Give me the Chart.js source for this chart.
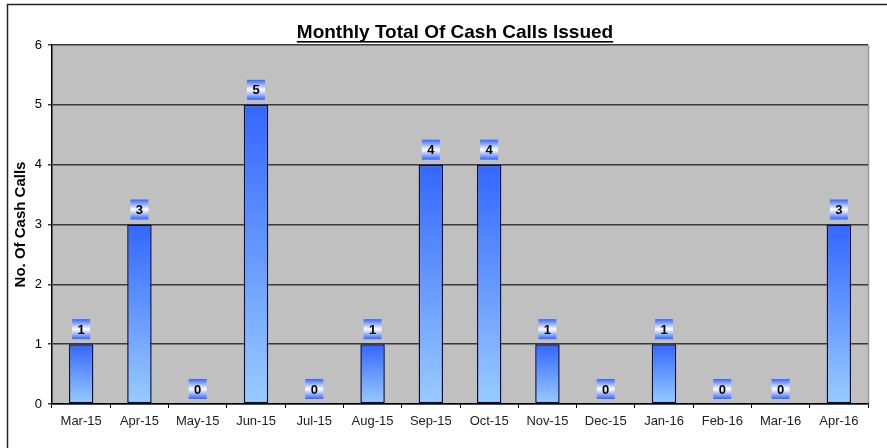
<!DOCTYPE html>
<html>
<head>
<meta charset="utf-8">
<script src="https://cdn.jsdelivr.net/npm/chart.js@4.4.1/dist/chart.umd.min.js"></script>
<style>
  html, body { margin: 0; padding: 0; background: #fff; }
  #wrap { width: 887px; height: 448px; }
</style>
</head>
<body>
<div id="wrap"><canvas id="cash-calls-chart" width="887" height="448"></canvas></div>
<script>
/* Data. */
const months = ["Mar-15", "Apr-15", "May-15", "Jun-15", "Jul-15", "Aug-15", "Sep-15",
    "Oct-15", "Nov-15", "Dec-15", "Jan-16", "Feb-16", "Mar-16", "Apr-16"];
const cashCalls = [1, 3, 0, 5, 0, 1, 4, 4, 1, 0, 1, 0, 0, 3];
const yTicks = [0, 1, 2, 3, 4, 5, 6];

const chartTitle = "Monthly Total Of Cash Calls Issued";
const yTitle = "No. Of Cash Calls";

Chart.defaults.font.family = "'Liberation Sans', Arial, sans-serif";
Chart.defaults.color = "#000";

// Per bar vertical gradient, dark blue on top to light blue at the base.
const barFill = (c) => {
    const ys = c.chart.scales.y;
    if (!ys || c.type !== "data") return "#6699ff";
    const top = ys.getPixelForValue(c.raw);
    const bot = ys.getPixelForValue(0);
    if (!isFinite(top) || top === bot) return "#6699ff";
    const g = c.chart.ctx.createLinearGradient(0, top, 0, bot);
    g.addColorStop(0, "#3366ff");
    g.addColorStop(1, "#99ccff");
    return g;
};

// Frame, plot background and title.
const framePlugin = {
    id: "frame",
    beforeDraw(chart) {
        const {ctx, chartArea: a} = chart;
        ctx.save();
        ctx.fillStyle = "#c0c0c0";
        ctx.fillRect(a.left, a.top, a.right - a.left, a.bottom - a.top);
        ctx.strokeStyle = "#999";
        ctx.lineWidth = 1.5;
        ctx.beginPath();
        ctx.moveTo(a.right + 0.5, a.top);
        ctx.lineTo(a.right + 0.5, a.bottom);
        ctx.stroke();
        // outer chart border (top and left only are visible)
        ctx.strokeStyle = "#222";
        ctx.lineWidth = 1.5;
        ctx.beginPath();
        ctx.moveTo(7.5, chart.height);
        ctx.lineTo(7.5, 4.5);
        ctx.lineTo(chart.width, 4.5);
        ctx.stroke();
        ctx.restore();
    },
    afterDraw(chart) {
        const {ctx} = chart;
        ctx.save();
        ctx.font = "bold 19px 'Liberation Sans', Arial, sans-serif";
        ctx.fillStyle = "#000";
        ctx.textAlign = "center";
        ctx.textBaseline = "alphabetic";
        const cx = 455, by = 38;
        ctx.fillText(chartTitle, cx, by);
        const w = ctx.measureText(chartTitle).width;
        ctx.fillRect(cx - w / 2, by + 3, w, 1.6);
        ctx.restore();
    }
};

// Value labels in small gradient boxes above each bar.
const labelPlugin = {
    id: "valueBoxes",
    afterDatasetsDraw(chart) {
        const {ctx} = chart;
        const meta = chart.getDatasetMeta(0);
        ctx.save();
        ctx.font = "bold 13px 'Liberation Sans', Arial, sans-serif";
        ctx.textAlign = "center";
        ctx.textBaseline = "middle";
        meta.data.forEach((bar, i) => {
            const bw = 18, bh = 20;
            const x = bar.x - bw / 2;
            const y = bar.y - 5 - bh;
            const g = ctx.createLinearGradient(0, y, 0, y + bh);
            g.addColorStop(0, "#3366ff");
            g.addColorStop(0.5, "#ffffff");
            g.addColorStop(1, "#3366ff");
            ctx.fillStyle = g;
            ctx.fillRect(x, y, bw, bh);
            ctx.fillStyle = "#000";
            ctx.fillText(String(cashCalls[i]), bar.x, y + bh / 2 + 1);
        });
        ctx.restore();
    }
};

const ctx = document.getElementById("cash-calls-chart").getContext("2d");
const chart = new Chart(ctx, {
    type: "bar",
    data: {
        labels: months,
        datasets: [{
            label: "Cash Calls",
            data: cashCalls,
            backgroundColor: barFill,
            borderColor: "#0a1040",
            borderWidth: (c) => (c.raw === 0 ? 0 : 1.5),
            borderSkipped: false,
            barPercentage: 0.42,
            categoryPercentage: 1.0,
        }],
    },
    options: {
        responsive: false,
        animation: false,
        layout: {padding: {left: 7, top: 45, right: 19, bottom: 0}},
        plugins: {
            legend: {display: false},
            tooltip: {enabled: false},
        },
        scales: {
            x: {
                offset: true,
                afterFit: (s) => { s.height = 44; },
                grid: {
                    offset: true, drawOnChartArea: false, tickLength: 4,
                    color: "#000",
                },
                border: {color: "#000", width: 1.5},
                ticks: {font: {size: 13}, color: "#222", padding: 6, maxRotation: 0, autoSkip: false},
            },
            y: {
                min: 0,
                max: 6,
                afterFit: (s) => { s.width = 45; },
                afterBuildTicks: (s) => { s.ticks = yTicks.map((v) => ({value: v})); },
                grid: {color: "#3a3a3a", tickLength: 4, lineWidth: 1.5},
                border: {color: "#000", width: 1.5},
                ticks: {font: {size: 13}, color: "#000", padding: 6},
                title: {
                    display: true, text: yTitle,
                    font: {size: 15, weight: "bold"}, color: "#000",
                    padding: {top: 5, bottom: 0},
                },
            },
        },
    },
    plugins: [framePlugin, labelPlugin],
});
</script>
</body>
</html>
